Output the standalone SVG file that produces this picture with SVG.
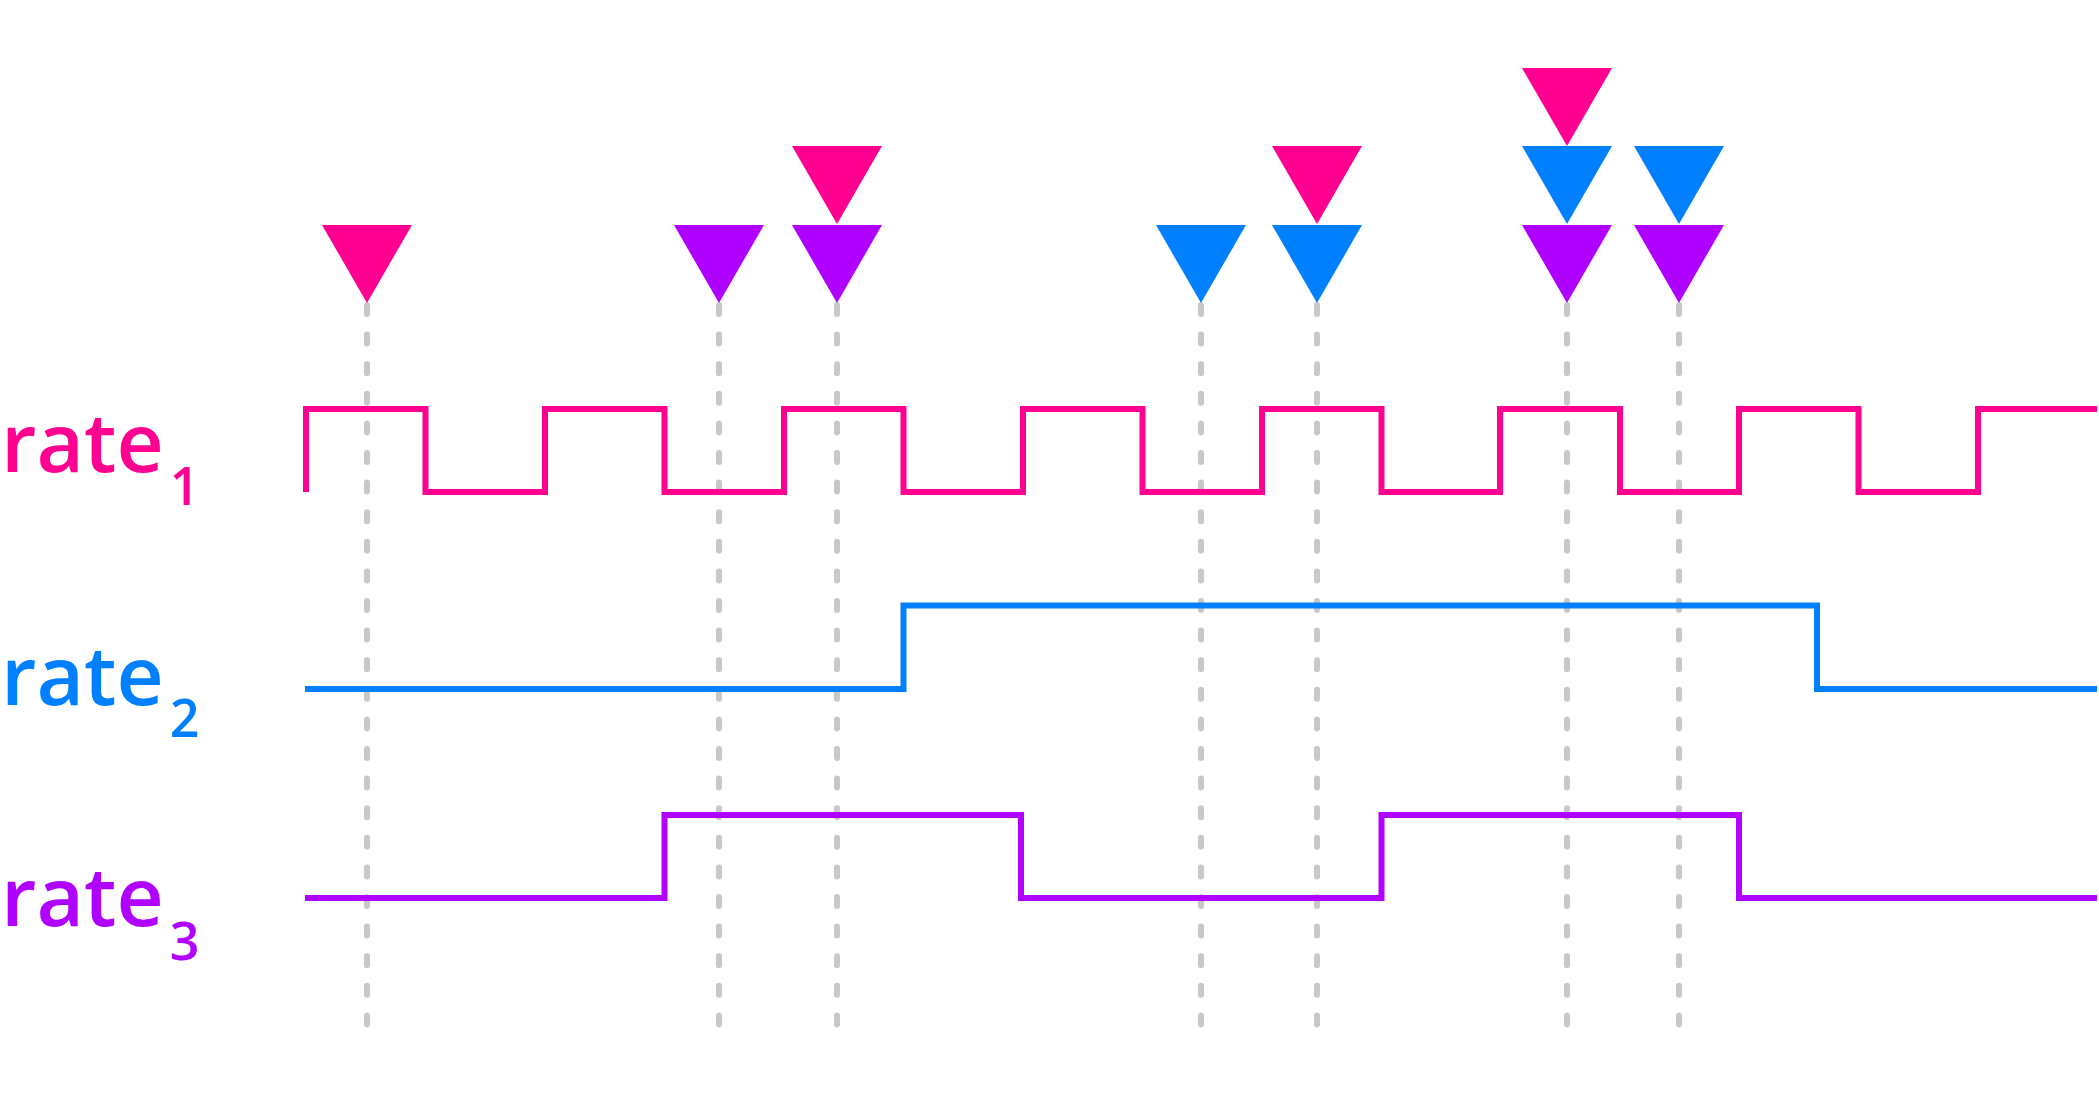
<svg xmlns="http://www.w3.org/2000/svg" width="2099" height="1119" viewBox="0 0 2099 1119">
<style>
.lbl{font-family:"Open Sans","Noto Sans",sans-serif;font-weight:600;font-size:82px}
.sub{font-size:52px}
.dash{stroke:#c8c8c8;stroke-width:6;stroke-linecap:round;stroke-dasharray:9 20.6;fill:none}
.wave{fill:none;stroke-width:6}
.r{fill:#ff0090}.b{fill:#0080ff}.p{fill:#b000ff}
</style>
<defs>
<polygon id="tri" points="-45,0 45,0 0,78"/>
</defs>
<rect width="2099" height="1119" fill="#fff"/>
<g id="connectors">
<line class="dash" x1="367" y1="305" x2="367" y2="1026"/>
<line class="dash" x1="719" y1="305" x2="719" y2="1026"/>
<line class="dash" x1="837" y1="305" x2="837" y2="1026"/>
<line class="dash" x1="1201" y1="305" x2="1201" y2="1026"/>
<line class="dash" x1="1317" y1="305" x2="1317" y2="1026"/>
<line class="dash" x1="1567" y1="305" x2="1567" y2="1026"/>
<line class="dash" x1="1679" y1="305" x2="1679" y2="1026"/>
</g>
<g id="rate1">
<path class="wave" stroke="#ff0090" d="M306,492 V409 H425.5 V492 H545 V409 H664.5 V492 H784 V409 H903.5 V492 H1023 V409 H1142.5 V492 H1262 V409 H1381.5 V492 H1500 V409 H1620 V492 H1739 V409 H1858.5 V492 H1978 V409 H2097"/>
<text class="lbl r" x="1" y="472">rate<tspan class="sub" dx="6" dy="33">1</tspan></text>
</g>
<g id="rate2">
<path class="wave" stroke="#0080ff" d="M305,689 H903.5 V605.5 H1817 V689 H2097"/>
<text class="lbl b" x="1" y="705">rate<tspan class="sub" dx="6" dy="32">2</tspan></text>
</g>
<g id="rate3">
<path class="wave" stroke="#b000ff" d="M305,898 H664.5 V815 H1021 V898 H1381.5 V815 H1739 V898 H2097"/>
<text class="lbl p" x="1" y="926">rate<tspan class="sub" dx="6" dy="34">3</tspan></text>
</g>
<g id="markers">
<use href="#tri" class="r" x="367" y="225"/>
<use href="#tri" class="p" x="719" y="225"/>
<use href="#tri" class="p" x="837" y="225"/>
<use href="#tri" class="r" x="837" y="146"/>
<use href="#tri" class="b" x="1201" y="225"/>
<use href="#tri" class="b" x="1317" y="225"/>
<use href="#tri" class="r" x="1317" y="146"/>
<use href="#tri" class="p" x="1567" y="225"/>
<use href="#tri" class="b" x="1567" y="146"/>
<use href="#tri" class="r" x="1567" y="68"/>
<use href="#tri" class="p" x="1679" y="225"/>
<use href="#tri" class="b" x="1679" y="146"/>
</g>
</svg>
